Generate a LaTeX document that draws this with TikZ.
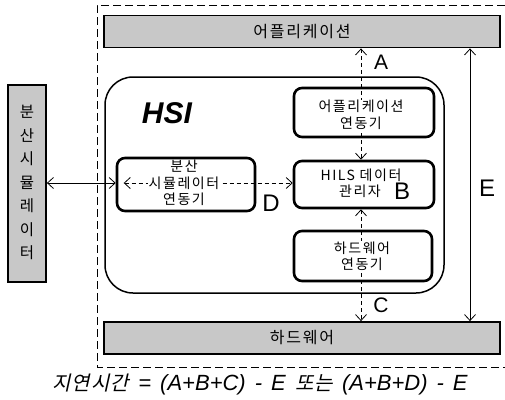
\documentclass[tikz,border=0pt]{standalone}
\usepackage{fontspec}
\usetikzlibrary{arrows.meta}
\setmainfont{Liberation Sans}
\newfontfamily\kr[LetterSpace=11]{Noto Sans CJK KR}
\newfontfamily\krsl[FakeSlant=0.22,LetterSpace=6]{Noto Sans CJK KR}
\definecolor{bargray}{RGB}{200,200,200}
\newcommand{\gap}{\hspace{9pt}}

\tikzset{
  bar/.style={draw, line width=1.8pt, fill=bargray, minimum width=396pt,
    minimum height=32pt, inner sep=0pt},
  unit/.style={draw, line width=2.6pt, rounded corners=8pt, inner sep=0pt},
  txt/.style={fill=white, inner sep=0.6pt, align=center,
    font=\kr\fontsize{14}{16.5}\selectfont},
  barlabel/.style={inner sep=0pt, font=\kr\fontsize{16}{18}\selectfont},
  letter/.style={inner sep=0pt, font=\fontsize{21}{21}\selectfont},
  bigletter/.style={inner sep=0pt, font=\fontsize{24}{24}\selectfont},
  barb/.tip={Straight Barb[length=6pt,width=11pt]},
  link/.style={line width=0.8pt, barb-barb},
  dlink/.style={link, dash pattern=on 4pt off 3pt},
}

\begin{document}
\begin{tikzpicture}[x=1pt,y=-1pt]
  \useasboundingbox (0,0) rectangle (505,399);

  % system boundary
  \draw[line width=0.8pt, dash pattern=on 8pt off 4pt]
    (505,5) -- (97,5) -- (97,367) -- (505,367);

  % application and hardware layers
  \node[bar] (app) at (302,31.5) {};
  \node[barlabel] at (app.center) {어플리케이션};
  \node[bar] (hw) at (302,338) {};
  \node[barlabel] at (hw.center) {하드웨어};

  % external distributed simulator
  \node[draw, line width=1.8pt, fill=bargray, minimum width=38pt,
        minimum height=197pt, inner sep=0pt] (dsim) at (27,183.5) {};
  \node[inner sep=0pt, align=center,
        font=\kr\fontsize{15.5}{23.5}\selectfont] at (27,182.5)
        {분\\산\\시\\뮬\\레\\이\\터};

  % HSI container
  \node[draw, line width=1.5pt, rounded corners=28pt, minimum width=339pt,
        minimum height=216pt, inner sep=0pt] (hsi) at (274.5,185) {};
  \node[inner sep=0pt, font=\bfseries\itshape\fontsize{30}{30}\selectfont]
        (hsiT) at (167,113) {HSI};

  % HSI units
  \node[unit, minimum width=140pt, minimum height=49pt] (appU) at (364,112.5) {};
  \node[unit, minimum width=140pt, minimum height=47pt] (hils) at (364,184.5) {};
  \node[unit, minimum width=138pt, minimum height=50pt] (hwU) at (363,256) {};
  \node[unit, minimum width=138pt, minimum height=53pt] (dsU) at (186,184.5) {};

  % reference lines for the connectors
  \coordinate (ax) at (361,0);
  \coordinate (ex) at (470,0);
  \coordinate (dy) at (0,183);

  % delay paths
  \draw[dlink] (app.south -| ax) -- (hils.north -| ax);
  \draw[dlink] (hils.south -| ax) -- (hw.north -| ax);
  \draw[link] (app.south -| ex) -- (hw.north -| ex);
  \draw[link] (dsim.east |- dy) -- (dsU.west |- dy);
  \draw[dlink] ([xshift=8pt]dsU.west |- dy) -- (hils.west |- dy);

  % unit labels
  \node[txt] at (361,115) {어플리케이션\\연동기};
  \node[txt] at (361,175) {HILS 데이터};
  \node[txt] at (360,191) {관리자};
  \node[txt] at (362,256.5) {하드웨어\\연동기};
  \node[txt] at (184,183) {분산\\시뮬레이터\\연동기};

  % delay labels
  \node[letter] (lA) at (381,62) {A};
  \node[bigletter] (lB) at (402,191) {B};
  \node[letter] (lC) at (381,305) {C};
  \node[bigletter] (lD) at (271,203) {D};
  \node[bigletter] (lE) at (487,188) {E};

  % delay formula
  \node[inner sep=0pt, font=\fontsize{22}{22}\selectfont] (formula) at (260,384)
    {{\krsl\fontsize{20}{20}\selectfont 지연시간}\gap\textit{=}\gap\textit{(A+B+C)}\gap\textit{-}\gap\textit{E}\gap{\krsl\fontsize{20}{20}\selectfont 또는}\gap\textit{(A+B+D)}\gap\textit{-}\gap\textit{E}};
\end{tikzpicture}
\end{document}
